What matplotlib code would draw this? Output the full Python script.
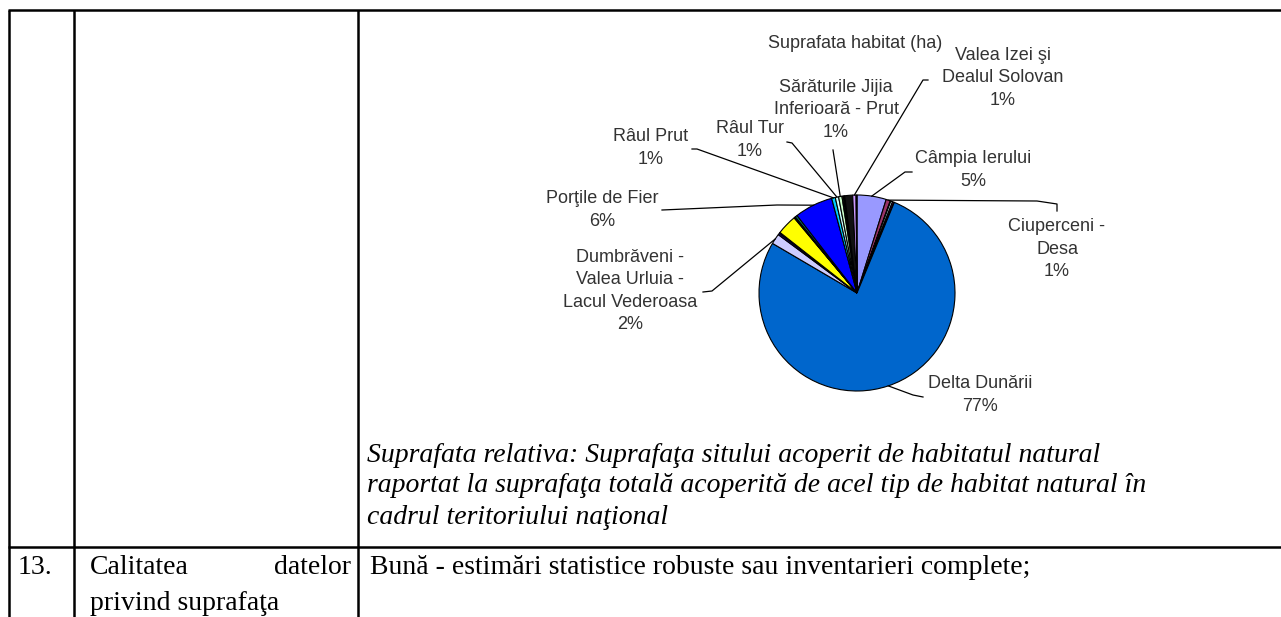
import numpy as np
import matplotlib.pyplot as plt

# pie slices, clockwise from 12 o'clock (share of habitat area, %)
sites = ["Câmpia Ierului", "Ciuperceni -\nDesa", "", "", "", "",
         "Delta Dunării", "Dumbrăveni -\nValea Urluia -\nLacul Vederoasa",
         "", "", "", "", "", "", "",
         "Porţile de Fier", "Râul Prut", "Râul Tur", "Sărăturile Jijia\nInferioară - Prut",
         "", "", "", "", "Valea Izei şi\nDealul Solovan", ""]
area = [4.8, 0.7, 0.1, 0.3, 0.25, 0.05,
        77.0, 1.7,
        0.3, 0.15, 3.3, 0.1, 0.1, 0.05, 0.35,
        6.3, 0.6, 0.55, 0.55,
        0.2, 0.15, 0.1, 1.3, 0.55, 0.15]
colors = ["#9999FF", "#993366", "#FFFFCC", "#CCFFFF", "#660066", "#FF8080",
          "#0066CC", "#CCCCFF",
          "#000080", "#FF00FF", "#FFFF00", "#00FFFF", "#800080", "#800000", "#008080",
          "#0000FF", "#00CCFF", "#CCFFFF", "#CCFFCC",
          "#FFFF99", "#99CCFF", "#FF99CC", "#111111", "#CC99FF", "#111111"]

chart_title = "Suprafata habitat (ha)"
note_lines = ["Suprafata relativa: Suprafaţa sitului acoperit de habitatul natural",
              "raportat la suprafaţa totală acoperită de acel tip de habitat natural în",
              "cadrul teritoriului naţional"]
row_no = "13."
row_head = ["Calitatea", "datelor", "privind suprafaţa"]
row_text = "Bună - estimări statistice robuste sau inventarieri complete;"

# label block centre and leader path (label side first), pixel coords
label_layout = {
    "Câmpia Ierului": ((973, 170), [(912, 172), (905, 172)]),
    "Ciuperceni -\nDesa": ((1057, 249), [(1057, 211), (1057, 204), (1037, 201)]),
    "Delta Dunării": ((980, 395), [(923, 397), (913, 395)]),
    "Dumbrăveni -\nValea Urluia -\nLacul Vederoasa": ((630, 291), [(703, 292), (712, 291)]),
    "Porţile de Fier": ((602, 210), [(662, 210), (777, 205)]),
    "Râul Prut": ((651, 148), [(692, 149), (697, 149)]),
    "Râul Tur": ((750, 140), [(787, 142), (792, 143)]),
    "Sărăturile Jijia\nInferioară - Prut": ((836, 110), [(833, 150)]),
    "Valea Izei şi\nDealul Solovan": ((1003, 78), [(928, 80), (923, 80)]),
}

W, H = 1281, 617
fig = plt.figure(figsize=(W / 100, H / 100), dpi=100)
ax = fig.add_axes([0, 0, 1, 1])

cx, cy, r = 857, 293, 98
wedges, _ = ax.pie(area, colors=colors, startangle=270, counterclock=True,
                   center=(cx, cy), radius=r,
                   wedgeprops=dict(edgecolor="black", linewidth=0.8))
ax.set_xlim(0, W)
ax.set_ylim(H, 0)
ax.set_aspect("auto")
ax.axis("off")

total = sum(area)
lab_font = dict(family="Liberation Sans", fontsize=13, color="#333333")
for w, name, val in zip(wedges, sites, area):
    if not name:
        continue
    (tx, ty), path = label_layout[name]
    ang = np.deg2rad((w.theta1 + w.theta2) / 2)
    anchor = (cx + r * np.cos(ang), cy + r * np.sin(ang))
    pts = np.array(path + [anchor])
    ax.plot(pts[:, 0], pts[:, 1], color="black", lw=0.9)
    ax.text(tx, ty, f"{name}\n{val / total * 100:.0f}%", ha="center", va="center",
            linespacing=1.4, **lab_font)

ax.text(855, 43, chart_title, ha="center", va="center", **lab_font)

# table grid
line_kw = dict(color="black", lw=1.8, solid_capstyle="butt")
ax.plot([8, W], [10, 10], **line_kw)
ax.plot([8, W], [547, 547], **line_kw)
for x in [9, 74, 358]:
    ax.plot([x, x], [10, H], **line_kw)

serif = dict(family="Liberation Serif", fontsize=20, color="black")
for i, line in enumerate(note_lines):
    ax.text(367, 455 + 31 * i, line, ha="left", va="center", style="italic", **serif)

ax.text(18, 567, row_no, ha="left", va="center", **serif)
ax.text(90, 567, row_head[0], ha="left", va="center", **serif)
ax.text(351, 567, row_head[1], ha="right", va="center", **serif)
ax.text(90, 603, row_head[2], ha="left", va="center", **serif)
ax.text(370, 567, row_text, ha="left", va="center", **serif)

fig.savefig("out.png", dpi=100)
